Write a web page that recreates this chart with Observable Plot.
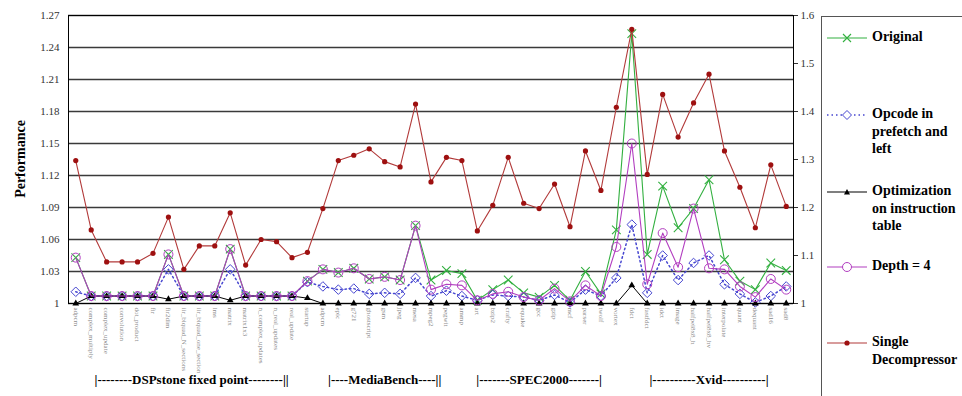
<!DOCTYPE html>
<html><head><meta charset="utf-8">
<script src="https://cdn.jsdelivr.net/npm/d3@7"></script>
<script src="https://cdn.jsdelivr.net/npm/@observablehq/plot@0.6"></script>
<style>body{margin:0;background:#fff}</style>
</head><body><div id="chart"></div>
<script>
// ---- data ----
const names = [
  "adpcm","complex_multiply","complex_update","convolution","dot_product","fir","fir2dim",
  "iir_biquad_N_sections","iir_biquad_one_section","lms","matrix","matrix1x3",
  "n_complex_updates","n_real_updates","real_update","startup",
  "adpcm","epic","g721","ghostscript","gsm","jpeg","mesa","mpeg2","pegwit",
  "ammp","art","bzip2","crafty","equake","gcc","gzip","mcf","parser","twolf","vortex",
  "fdct","fastfdct","idct","image","halfpel8x8_h","halfpel8x8_hv","interpolate","quant","dequant","sad16","sad8"
];
const groupNames  = ["DSPstone fixed point","MediaBench","SPEC2000","Xvid"];
const groupLabels = ["|--------DSPstone fixed point--------||","|----MediaBench----||","|-------SPEC2000-------|","|----------Xvid----------|"];
const groupStart  = [0, 16, 25, 36];
const groupEnd    = [15, 24, 35, 46];

const original = [1.043,1.007,1.007,1.007,1.007,1.007,1.046,1.007,1.007,1.007,1.051,1.007,1.007,1.007,1.007,1.021,
  1.032,1.029,1.033,1.023,1.025,1.022,1.073,1.022,1.031,
  1.028,1.003,1.013,1.022,1.010,1.006,1.017,1.003,1.030,1.009,1.069,
  1.253,1.046,1.110,1.071,1.089,1.116,1.041,1.021,1.013,1.038,1.031];
const opcode = [1.011,1.007,1.007,1.007,1.007,1.007,1.032,1.007,1.007,1.007,1.032,1.007,1.007,1.007,1.007,1.020,
  1.016,1.013,1.014,1.009,1.010,1.009,1.024,1.007,1.012,
  1.007,1.003,1.008,1.007,1.006,1.003,1.008,1.001,1.013,1.007,1.024,
  1.074,1.010,1.045,1.022,1.038,1.045,1.018,1.009,1.001,1.007,1.016];
const optimization = [1.000,1.007,1.007,1.007,1.007,1.007,1.004,1.007,1.007,1.007,1.003,1.007,1.007,1.007,1.007,1.005,
  1.000,1.000,1.000,1.000,1.000,1.000,1.000,1.000,1.000,
  1.000,1.000,1.000,1.000,1.000,1.000,1.000,1.000,1.000,1.000,1.000,
  1.017,1.000,1.000,1.000,1.000,1.000,1.000,1.000,1.000,1.000,1.000];
const depth4 = [1.043,1.007,1.007,1.007,1.007,1.007,1.046,1.007,1.007,1.007,1.051,1.007,1.007,1.007,1.007,1.021,
  1.032,1.029,1.033,1.023,1.025,1.022,1.073,1.013,1.018,
  1.017,1.003,1.009,1.011,1.006,1.003,1.014,1.002,1.017,1.007,1.053,
  1.150,1.018,1.066,1.034,1.089,1.033,1.032,1.016,1.006,1.023,1.013];
const single = [1.134,1.069,1.039,1.039,1.039,1.047,1.081,1.032,1.054,1.054,1.085,1.036,1.060,1.058,1.043,1.048,
  1.089,1.134,1.139,1.145,1.133,1.128,1.187,1.114,1.137,
  1.134,1.068,1.092,1.137,1.094,1.089,1.112,1.072,1.143,1.106,1.184,
  1.257,1.121,1.196,1.156,1.188,1.215,1.143,1.109,1.071,1.130,1.091];

const leftTicks  = [1, 1.03, 1.06, 1.09, 1.12, 1.15, 1.18, 1.21, 1.24, 1.27];
const rightTicks = [1, 1.1, 1.2, 1.3, 1.4, 1.5, 1.6];

// ---- chart ----
const toLeft = v => 1 + (v - 1) * 0.27 / 0.6;
const fromLeft = d => 1 + (d - 1) * 0.6 / 0.27;
const rows = vals => vals.map((v, i) => ({i, v}));
const serif = "'Liberation Serif','Times New Roman',serif";
const C = {green: "#33b040", blue: "#4646d0", black: "#000", purple: "#b23ec0", red: "#b23a3a", redDot: "#9e1010"};
const pad = 0.47;

const chart = Plot.plot({
  width: 962, height: 396,
  marginLeft: 68, marginRight: 169, marginTop: 15, marginBottom: 93,
  style: {fontFamily: serif, background: "white", overflow: "visible"},
  x: {domain: [-pad, names.length - 1 + pad]},
  y: {domain: [1, 1.27]},
  marks: [
    Plot.ruleY(leftTicks, {stroke: "#3a3a3a", strokeWidth: 1.6}),
    Plot.frame({stroke: "#000"}),
    Plot.axisY(leftTicks, {tickSize: 0, tickPadding: 9, fontSize: 11, color: "#333", label: null,
      tickFormat: d => d === 1 ? "1" : d.toFixed(2)}),
    Plot.axisY(rightTicks.map(toLeft), {anchor: "right", tickSize: 4, tickPadding: 3, fontSize: 11, color: "#333", label: null,
      tickFormat: d => { const s = fromLeft(d).toFixed(1); return s === "1.0" ? "1" : s; }}),
    Plot.axisX(d3.range(names.length), {tickSize: 0, tickPadding: 4, tickRotate: 90, fontSize: 7, color: "#8a8a8a", label: null,
      tickFormat: i => names[i]}),

    Plot.line(rows(original), {x: "i", y: "v", stroke: C.green, strokeWidth: 1.1}),
    Plot.dot(rows(original), {x: "i", y: "v", symbol: "times", r: 4, stroke: C.green, strokeWidth: 1.1}),

    Plot.line(rows(opcode), {x: "i", y: "v", stroke: C.blue, strokeWidth: 1.5, strokeDasharray: "1.5,3"}),
    Plot.dot(rows(opcode), {x: "i", y: "v", symbol: "diamond2", r: 4.3, stroke: C.blue, fill: "none", strokeWidth: 1}),

    Plot.line(rows(optimization), {x: "i", y: "v", stroke: C.black, strokeWidth: 1}),
    Plot.dot(rows(optimization), {x: "i", y: "v", symbol: "triangle", r: 2.5, fill: C.black, stroke: "none"}),

    Plot.line(rows(depth4), {x: "i", y: "v", stroke: C.purple, strokeWidth: 1.1}),
    Plot.dot(rows(depth4), {x: "i", y: "v", symbol: "circle", r: 4.5, stroke: C.purple, fill: "none", strokeWidth: 1}),

    Plot.line(rows(single), {x: "i", y: "v", stroke: C.red, strokeWidth: 1.1}),
    Plot.dot(rows(single), {x: "i", y: "v", r: 2.6, fill: C.redDot, stroke: "none"}),

    Plot.text(groupNames, {x: (d, k) => (groupStart[k] + groupEnd[k]) / 2, frameAnchor: "bottom", dy: 80,
      text: (d, k) => groupLabels[k], fontSize: 13, fontWeight: "bold", fontFamily: serif,
      fill: "#000", ariaLabel: "groups"})
  ]
});
document.getElementById("chart").appendChild(chart);

const svg = d3.select(chart);
const xs = chart.scale("x");
svg.selectAll('g[aria-label="groups"] text').each(function(d, k) {
  const w = xs.apply(groupEnd[k] + 0.32) - xs.apply(groupStart[k] - 0.32);
  d3.select(this).attr("textLength", w).attr("lengthAdjust", "spacingAndGlyphs");
});

// y-axis title
svg.append("text").attr("transform", "translate(22,159) rotate(-90)")
  .attr("text-anchor", "middle").attr("dominant-baseline", "middle")
  .style("font", "bold 14px " + serif).attr("fill", "#000").text("Performance");

// legend
const lg = svg.append("g").attr("text-anchor", "start");
lg.append("rect").attr("x", 821.5).attr("y", 16.5).attr("width", 200).attr("height", 500)
  .attr("fill", "white").attr("stroke", "#555").attr("stroke-width", 1);
const legend = [
  {lines: ["Original"], y: 38, color: C.green, shape: "times"},
  {lines: ["Opcode in", "prefetch and", "left"], y: 115, color: C.blue, shape: "diamond", dash: "1.5,3"},
  {lines: ["Optimization", "on instruction", "table"], y: 192, color: C.black, shape: "triangle"},
  {lines: ["Depth = 4"], y: 267, color: C.purple, shape: "circle"},
  {lines: ["Single", "Decompressor"], y: 343, color: C.red, shape: "dot"}
];
legend.forEach(e => {
  lg.append("line").attr("x1", 827).attr("x2", 867).attr("y1", e.y).attr("y2", e.y)
    .attr("stroke", e.color).attr("stroke-width", e.dash ? 1.5 : 1.1).attr("stroke-dasharray", e.dash || null);
  const m = lg.append("g").attr("transform", `translate(847,${e.y})`);
  if (e.shape === "times") m.append("path").attr("d", "M-4,-4L4,4M-4,4L4,-4").attr("stroke", e.color).attr("stroke-width", 1.1);
  if (e.shape === "diamond") m.append("path").attr("d", "M0,-4.5L4.5,0L0,4.5L-4.5,0Z").attr("fill", "white").attr("stroke", e.color);
  if (e.shape === "triangle") m.append("path").attr("d", "M0,-3L3,2.5L-3,2.5Z").attr("fill", "#000");
  if (e.shape === "circle") m.append("circle").attr("r", 4.5).attr("fill", "white").attr("stroke", e.color);
  if (e.shape === "dot") m.append("circle").attr("r", 2.6).attr("fill", C.redDot);
  e.lines.forEach((t, j) => {
    lg.append("text").attr("x", 872).attr("y", e.y + j * 17.5).attr("dominant-baseline", "middle")
      .attr("text-anchor", "start")
      .style("font", "bold 14px " + serif).attr("fill", "#000").text(t);
  });
});
</script>
</body></html>
